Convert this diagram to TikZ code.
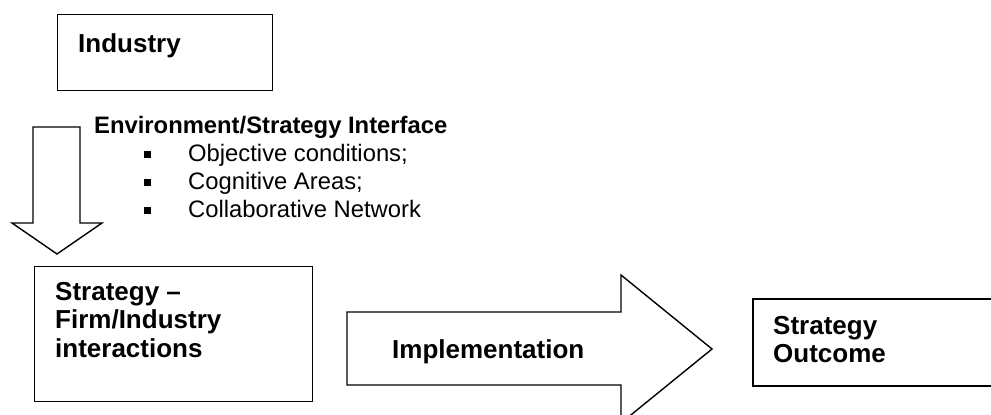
\documentclass[tikz,border=0pt]{standalone}
\usepackage{fontspec}
\setmainfont{Liberation Sans}
\begin{document}
\begin{tikzpicture}[x=1pt,y=-1pt,
  box/.style={draw=black, line width=1.4pt, fill=white, inner sep=0pt, anchor=north west},
  blockarrow/.style={draw=black, line width=1.4pt, fill=white, line join=miter},
  lab/.style={font=\bfseries\fontsize{26}{28.5}\selectfont, inner sep=0pt, align=left},
  ttl/.style={font=\bfseries\fontsize{23.8}{28}\selectfont, inner sep=0pt, anchor=base west},
  lst/.style={font=\fontsize{23.8}{28}\selectfont, inner sep=0pt, anchor=base west},
  bul/.style={fill=black, minimum size=7pt, inner sep=0pt}]
\useasboundingbox (0,0) rectangle (991,415);
\clip (0,0) rectangle (991,415);
% Industry box
\node[box, minimum width=215pt, minimum height=76pt] (industry) at (57,14) {};
\node[lab, anchor=base west] (industryT) at (78,52) {Industry};
% Down block arrow
\draw[blockarrow] (33,127) -- (80,127) -- (80,223) -- (102,223) -- (57,254) -- (12,223) -- (33,223) -- cycle;
% Interface text
\node[ttl] (iface) at (94,133) {Environment/Strategy Interface};
\node[bul] (b1) at (147,154) {};
\node[lst] (i1) at (188,161) {Objective conditions;};
\node[bul] (b2) at (147,182) {};
\node[lst] (i2) at (188,189) {Cognitive Areas;};
\node[bul] (b3) at (147,210) {};
\node[lst] (i3) at (188,217) {Collaborative Network};
% Strategy box
\node[box, minimum width=278pt, minimum height=135pt] (strategy) at (34,266) {};
\node[lab, anchor=north west] (strategyT) at (55,282) {Strategy --\\Firm/Industry\\interactions};
% Implementation block arrow
\draw[blockarrow] (347,312) -- (621,312) -- (621,275) -- (712,349) -- (621,423) -- (621,385) -- (347,385) -- cycle;
\node[lab, anchor=base west] (impl) at (392,358) {Implementation};
% Outcome box
\node[box, line width=1.8pt, minimum width=300pt, minimum height=87pt] (outcome) at (752,298) {};
\node[lab, anchor=north west] (outcomeT) at (773,316) {Strategy\\Outcome};
\end{tikzpicture}
\end{document}
